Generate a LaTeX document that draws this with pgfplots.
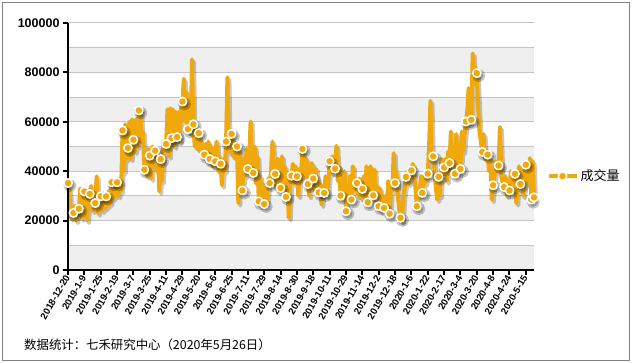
\documentclass[border=0pt]{standalone}
\usepackage{fontspec}
\setmainfont{Liberation Sans}
\newfontfamily\cjk{Noto Sans CJK SC}
\usepackage{pgfplots}
\pgfplotsset{compat=1.18}
\usepackage{pgfplotstable}
\definecolor{org}{RGB}{241,168,10}
\definecolor{band}{RGB}{239,239,239}
\definecolor{gridc}{RGB}{196,196,196}
\definecolor{frame}{RGB}{128,128,128}
\pgfplotstableread{
v
35200
30000
21000
24000
23100
26000
20000
25000
24800
33000
21000
22000
31800
27000
20000
29000
30800
34000
24000
28000
27100
37900
23000
30000
29800
24000
31000
25000
29800
26000
32000
27000
35500
29000
36000
30000
35500
30000
37000
32000
56500
40000
59000
45000
49400
60000
45000
61000
52700
48000
61000
50000
64600
65500
52000
56000
40600
48000
38000
49000
46300
37000
50000
43000
48300
40000
47000
31800
44900
36000
52000
48000
51000
65000
46000
65500
53400
65000
50000
64000
53800
64000
52000
65000
68200
77400
60000
72000
57000
64000
55000
85300
59000
50000
57000
49000
55400
48000
52000
46000
46700
51000
44000
52000
44900
50000
42000
49000
44000
52000
40000
46000
43000
34300
45000
40000
52000
78000
48000
56000
55100
46000
52000
45000
50000
27100
48000
36000
32200
45000
38000
49000
40900
45000
60100
42000
39300
50000
35000
46000
27800
38000
30000
35000
26700
33000
28000
37000
35200
40000
52000
39000
38900
33000
45000
36000
33200
46000
37000
42000
29600
36000
21100
34000
38200
43000
35000
42000
37900
30000
41000
36000
49000
42000
38000
45000
34800
30000
38000
43300
37000
32000
41000
33000
31400
35000
26500
34000
31200
38000
30000
35000
44000
39000
46000
41000
41000
50300
36000
42000
30100
38000
33000
40000
23800
34000
30000
38000
28500
42000
32000
37000
35200
30000
37000
29000
32800
38000
28000
42000
27400
35000
42000
33000
30200
40600
28000
34000
25800
33000
27000
30000
25100
30000
24000
36000
22800
35000
32000
47300
35200
40000
30000
25000
21100
19700
30000
33000
37700
40000
35000
41000
40300
43000
38000
33000
25800
33000
30000
38000
31200
38000
35000
40000
39000
50000
68500
45000
46000
40000
33000
28500
37700
30000
45000
38000
41500
45000
36000
48000
43300
56100
40000
48000
39000
55000
42000
50000
40900
56000
48000
55000
60100
64000
73600
62000
60800
87700
75000
82000
79700
65000
56000
52000
47800
55000
45000
48000
46700
40000
45000
28500
34300
38000
44000
40000
42300
57900
38000
35000
33600
38000
30000
36000
32200
40000
34000
39000
38900
27100
35000
42000
34800
40000
30000
36000
42600
35000
38000
45300
28500
44000
29400
}\vol
\begin{document}
\begin{tikzpicture}
\path (0pt,0pt) rectangle (633pt,363pt);
\draw[frame, line width=1.5pt] (2.5pt,2.5pt) rectangle (629.5pt,360.5pt);
\begin{axis}[
  at={(68pt,93pt)}, anchor=south west,
  scale only axis, width=466pt, height=247pt,
  clip=false, axis on top,
  xmin=0, xmax=342, ymin=0, ymax=100000,
  axis x line=bottom, axis y line=left,
  axis line style={-, line width=2.5pt, black},
  xtick={0,12,...,336},
  xticklabels={2018-12-20,2019-1-9,2019-1-25,2019-2-19,2019-3-7,2019-3-25,2019-4-11,2019-4-29,2019-5-20,2019-6-6,2019-6-25,2019-7-11,2019-7-29,2019-8-14,2019-8-30,2019-9-18,2019-10-11,2019-10-29,2019-11-14,2019-12-2,2019-12-18,2020-1-6,2020-1-22,2020-2-17,2020-3-4,2020-3-20,2020-4-8,2020-4-24,2020-5-15},
  ytick={0,20000,...,100000},
  tick align=outside,
  major tick length=5pt,
  tick style={black, line width=2pt},
  scaled y ticks=false,
  yticklabel={\bfseries\fontsize{12.5}{14}\selectfont\pgfmathprintnumber[fixed,1000 sep={},assume math mode=true]{\tick}},
  xticklabel style={font=\bfseries\fontsize{9.6}{11}\selectfont, rotate=60, anchor=east, inner sep=1pt},
  legend style={at={(1.02,0.38)}, anchor=west, draw=none, fill=none,
    font=\cjk\fontsize{13}{15}\selectfont},
  legend image code/.code={
    \draw[mark repeat=2,mark phase=2,#1] plot coordinates {(0pt,0pt) (14pt,0pt) (28pt,0pt)};
  },
]
\fill[band] (axis cs:0,0) rectangle (axis cs:342,10000);
\fill[band] (axis cs:0,20000) rectangle (axis cs:342,30000);
\fill[band] (axis cs:0,40000) rectangle (axis cs:342,50000);
\fill[band] (axis cs:0,60000) rectangle (axis cs:342,70000);
\fill[band] (axis cs:0,80000) rectangle (axis cs:342,90000);
\draw[gridc, line width=1pt] (axis cs:0,10000) -- (axis cs:342,10000);
\draw[gridc, line width=1pt] (axis cs:0,20000) -- (axis cs:342,20000);
\draw[gridc, line width=1pt] (axis cs:0,30000) -- (axis cs:342,30000);
\draw[gridc, line width=1pt] (axis cs:0,40000) -- (axis cs:342,40000);
\draw[gridc, line width=1pt] (axis cs:0,50000) -- (axis cs:342,50000);
\draw[gridc, line width=1pt] (axis cs:0,60000) -- (axis cs:342,60000);
\draw[gridc, line width=1pt] (axis cs:0,70000) -- (axis cs:342,70000);
\draw[gridc, line width=1pt] (axis cs:0,80000) -- (axis cs:342,80000);
\draw[gridc, line width=1pt] (axis cs:0,90000) -- (axis cs:342,90000);
\draw[gridc, line width=1pt] (axis cs:0,100000) -- (axis cs:342,100000);
\addplot[black, opacity=0.22, line width=4pt, line join=round, xshift=2pt, yshift=-2.5pt,
  mark=*, mark repeat=4, mark size=4.5pt, mark options={draw=none, fill=black}, forget plot]
  table[x expr=\coordindex, y=v]{\vol};
\addplot[org, line width=4pt, line join=round,
  mark=*, mark repeat=4, mark size=4.2pt,
  mark options={draw=white, fill=org, line width=1.5pt}]
  table[x expr=\coordindex, y=v]{\vol};
\addlegendentry{\cjk\fontsize{13}{15}\selectfont 成交量}
\addplot[draw=none, mark=*, mark size=4.2pt,
  mark options={draw=white, fill=org, line width=1.5pt}, forget plot]
  coordinates {(342,29400)};
\end{axis}
\node[anchor=west, font=\cjk\fontsize{12.4}{14}\selectfont, inner sep=0pt] at (24pt,18pt) {数据统计：七禾研究中心（2020年5月26日）};
\end{tikzpicture}
\end{document}
